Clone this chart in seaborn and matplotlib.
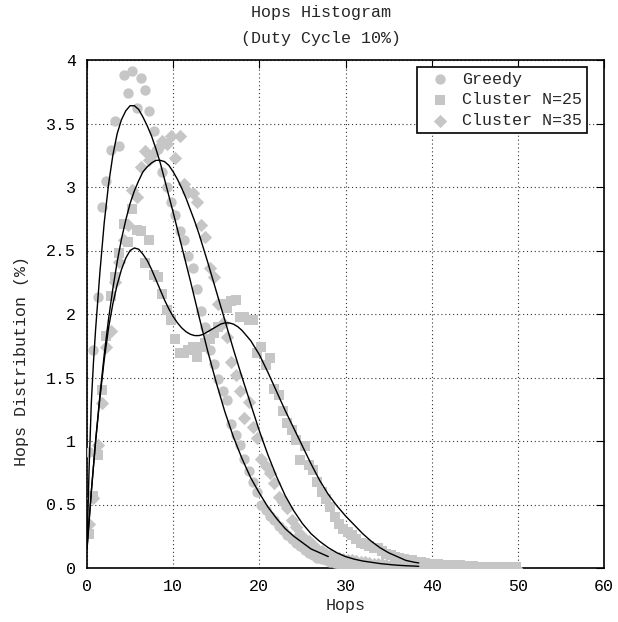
import numpy as np
import pandas as pd
import matplotlib.pyplot as plt
import seaborn as sns

sns.set_style("white")
plt.rcParams['font.family'] = ['Liberation Mono', 'DejaVu Sans Mono']

# histogram bins (bin centres, 0.5 hop wide)
hops = np.arange(0.25, 50.0, 0.5)

greedy = [0.91, 1.72, 2.13, 2.84, 3.05, 3.29, 3.52, 3.32, 3.88, 3.74,
          3.91, 3.62, 3.86, 3.76, 3.60, 3.44, 3.30, 3.12, 3.00, 2.88,
          2.78, 2.65, 2.58, 2.46, 2.36, 2.20, 2.02, 1.90, 1.72, 1.61,
          1.49, 1.39, 1.32, 1.13, 1.05, 0.97, 0.86, 0.76, 0.68, 0.60,
          0.50, 0.46, 0.41, 0.38, 0.33, 0.30, 0.26, 0.23, 0.20, 0.17,
          0.14, 0.12, 0.10, 0.08, 0.07, 0.06, 0.05, 0.04, 0.035, 0.03,
          0.025, 0.02, 0.02, 0.015, 0.01, 0.01, 0.01, 0.01, 0.008, 0.008,
          0.006, 0.006, 0.005, 0.005, 0.004, 0.004, 0.003, 0.003, 0.003, 0.002,
          0.002, 0.002, 0.002, 0.001, 0.001, 0.001, 0.001, 0.001, 0.001, 0.001,
          0.0, 0.0, 0.0, 0.0, 0.0, 0.0, 0.0, 0.0, 0.0, 0.0]

cluster25 = [0.27, 0.57, 0.89, 1.40, 1.83, 2.14, 2.29, 2.48, 2.71, 2.57,
             2.83, 2.66, 2.65, 2.40, 2.58, 2.31, 2.29, 2.16, 2.03, 1.95,
             1.80, 1.69, 1.69, 1.72, 1.74, 1.66, 1.74, 1.77, 1.80, 1.85,
             1.90, 2.08, 2.05, 2.10, 2.11, 1.98, 1.98, 1.95, 1.95, 1.69,
             1.74, 1.60, 1.65, 1.41, 1.36, 1.24, 1.14, 1.09, 1.01, 0.85,
             0.96, 0.81, 0.77, 0.68, 0.60, 0.54, 0.48, 0.40, 0.35, 0.31,
             0.28, 0.26, 0.23, 0.20, 0.19, 0.17, 0.16, 0.155, 0.13, 0.11,
             0.10, 0.09, 0.08, 0.07, 0.065, 0.06, 0.05, 0.045, 0.04, 0.035,
             0.03, 0.03, 0.025, 0.025, 0.02, 0.02, 0.02, 0.015, 0.015, 0.015,
             0.01, 0.01, 0.01, 0.01, 0.008, 0.008, 0.006, 0.006, 0.005, 0.005]

cluster35 = [0.35, 0.55, 0.97, 1.30, 1.74, 1.87, 2.25, 2.41, 2.58, 2.70,
             2.98, 2.92, 3.16, 3.28, 3.21, 3.27, 3.31, 3.36, 3.34, 3.40,
             3.23, 3.40, 3.02, 2.96, 2.95, 2.88, 2.70, 2.61, 2.36, 2.29,
             2.08, 1.93, 1.82, 1.62, 1.52, 1.39, 1.18, 1.31, 1.11, 1.02,
             0.86, 0.80, 0.75, 0.67, 0.56, 0.52, 0.47, 0.38, 0.32, 0.27,
             0.23, 0.21, 0.18, 0.15, 0.13, 0.11, 0.10, 0.09, 0.08, 0.07,
             0.065, 0.06, 0.055, 0.05, 0.045, 0.04, 0.035, 0.03, 0.03, 0.025,
             0.02, 0.02, 0.018, 0.016, 0.014, 0.012, 0.01, 0.01, 0.01, 0.008,
             0.008, 0.006, 0.006, 0.005, 0.005, 0.004, 0.004, 0.003, 0.003, 0.003,
             0.002, 0.002, 0.002, 0.001, 0.001, 0.001, 0.001, 0.0, 0.0, 0.0]

# fitted curves
greedy_fit_x = [0, 0.25, 0.5, 0.75, 1, 1.5, 2, 2.5, 3, 3.5, 4, 4.5, 5, 5.5, 6, 6.5,
                7, 7.5, 8, 8.5, 9, 9.5, 10, 11, 12, 13, 14, 15, 16, 17, 18, 19,
                20, 21, 22, 23, 24, 25, 26, 27, 28]
greedy_fit_y = [0.15, 0.80, 1.30, 1.62, 1.88, 2.33, 2.72, 3.02, 3.25, 3.42, 3.53, 3.60,
                3.64, 3.64, 3.61, 3.55, 3.48, 3.40, 3.30, 3.19, 3.06, 2.93, 2.80,
                2.53, 2.26, 1.98, 1.71, 1.46, 1.23, 1.03, 0.86, 0.71, 0.59, 0.48,
                0.39, 0.31, 0.25, 0.20, 0.15, 0.12, 0.09]

c25_fit_x = [0, 0.5, 1, 1.5, 2, 2.5, 3, 3.5, 4, 4.5, 5, 5.5, 6, 6.5, 7, 7.5, 8,
             8.5, 9, 9.5, 10, 10.5, 11, 11.5, 12, 12.5, 13, 13.5, 14, 14.5, 15,
             15.5, 16, 16.5, 17, 17.5, 18, 19, 20, 21, 22, 23, 24, 25, 26, 27,
             28, 29, 30, 31, 32, 33, 34, 35, 36, 37, 38, 38.5]
c25_fit_y = [0.15, 0.60, 1.00, 1.34, 1.64, 1.89, 2.08, 2.23, 2.35, 2.44, 2.50, 2.52,
             2.51, 2.47, 2.42, 2.35, 2.27, 2.19, 2.11, 2.04, 1.98, 1.93, 1.89,
             1.86, 1.84, 1.83, 1.83, 1.84, 1.86, 1.88, 1.90, 1.92, 1.93, 1.93,
             1.92, 1.90, 1.87, 1.79, 1.68, 1.54, 1.39, 1.24, 1.10, 0.96, 0.82,
             0.69, 0.58, 0.49, 0.41, 0.34, 0.27, 0.21, 0.16, 0.12, 0.09, 0.06,
             0.045, 0.04]

c35_fit_x = [0, 0.5, 1, 1.5, 2, 2.5, 3, 3.5, 4, 4.5, 5, 5.5, 6, 6.5, 7, 7.5, 8,
             8.5, 9, 9.5, 10, 10.5, 11, 11.5, 12, 12.5, 13, 13.5, 14, 15, 16, 17,
             18, 19, 20, 21, 22, 23, 24, 25, 26, 27, 28, 29, 30, 31, 32, 33, 34,
             35, 36, 37, 38, 38.5]
c35_fit_y = [0.15, 0.60, 1.00, 1.36, 1.68, 1.96, 2.20, 2.41, 2.59, 2.74, 2.87, 2.97,
             3.05, 3.12, 3.16, 3.19, 3.21, 3.21, 3.20, 3.17, 3.12, 3.06, 2.99,
             2.91, 2.82, 2.73, 2.63, 2.52, 2.41, 2.18, 1.95, 1.72, 1.50, 1.29,
             1.08, 0.89, 0.72, 0.57, 0.45, 0.35, 0.27, 0.21, 0.16, 0.12, 0.09,
             0.07, 0.055, 0.045, 0.035, 0.028, 0.022, 0.018, 0.015, 0.013]

xticks = [0, 10, 20, 30, 40, 50, 60]
yticks = [0, 0.5, 1, 1.5, 2, 2.5, 3, 3.5, 4]
ytick_labels = ["0", "0.5", "1", "1.5", "2", "2.5", "3", "3.5", "4"]

grey = "#c6c6c6"

fig = plt.figure(figsize=(6.18, 6.22), dpi=100)
ax = fig.add_axes([87 / 618, 1 - 568 / 622, (604 - 87) / 618, (568 - 60) / 622])

sns.scatterplot(x=hops, y=greedy, marker="o", s=56, color=grey, linewidth=0,
                label="Greedy", ax=ax, zorder=3)
sns.scatterplot(x=hops, y=cluster25, marker="s", s=50, color=grey, linewidth=0,
                label="Cluster N=25", ax=ax, zorder=3)
sns.scatterplot(x=hops, y=cluster35, marker="D", s=46, color=grey, linewidth=0,
                label="Cluster N=35", ax=ax, zorder=3)

for fx, fy in [(greedy_fit_x, greedy_fit_y), (c25_fit_x, c25_fit_y), (c35_fit_x, c35_fit_y)]:
    sns.lineplot(x=fx, y=fy, color="black", linewidth=1.0, legend=False, ax=ax, zorder=4)

ax.set_xlim(0, 60)
ax.set_ylim(0, 4)
ax.set_xticks(xticks)
ax.set_yticks(yticks)
ax.set_yticklabels(ytick_labels)
ax.grid(True, color="0.2", linestyle=(0, (1, 2.5)), linewidth=0.8)
ax.tick_params(direction="in", top=True, right=True, length=6, width=0.8,
               labelsize=12, pad=8, colors="black")
for sp in ax.spines.values():
    sp.set_color("black")
    sp.set_linewidth(1.2)

leg = ax.legend(loc="upper right", bbox_to_anchor=(0.968, 0.987), borderaxespad=0,
                frameon=True, fancybox=False, fontsize=12, handletextpad=0.3,
                borderpad=0.3, labelspacing=0.35, handlelength=2.1)
leg.get_frame().set_edgecolor("black")
leg.get_frame().set_linewidth(1.2)
leg.get_frame().set_alpha(1)

fig.text(321 / 618, 1 - 13 / 622, "Hops Histogram", ha="center", va="center", fontsize=12)
fig.text(321 / 618, 1 - 38 / 622, "(Duty Cycle 10%)", ha="center", va="center", fontsize=12)
ax.set_xlabel("Hops", fontsize=12, labelpad=3)
fig.text(22 / 618, 1 - 361 / 622, "Hops Distribution (%)", ha="center", va="center",
         rotation=90, fontsize=12)

fig.savefig("out.png", dpi=100)
